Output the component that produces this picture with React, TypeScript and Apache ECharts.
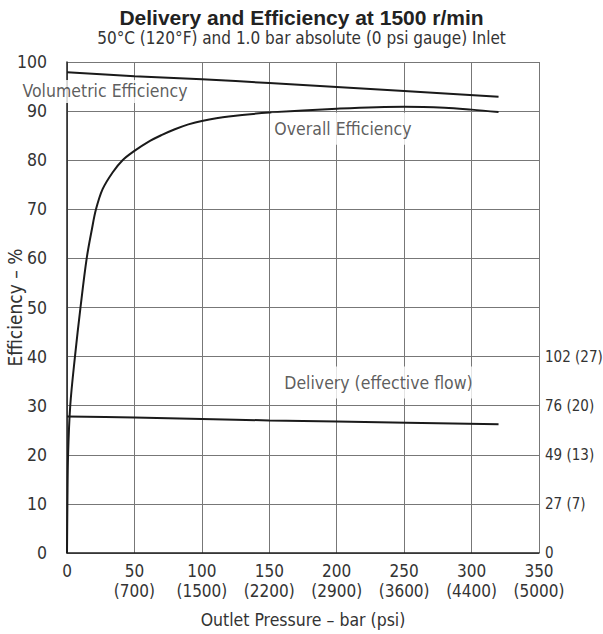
import React, { useEffect, useRef } from "react";
import * as echarts from "echarts";

const titleText = "Delivery and Efficiency at 1500 r/min";
const subtitleText = "50°C (120°F) and 1.0 bar absolute (0 psi gauge) Inlet";
const xAxisName = "Outlet Pressure – bar (psi)";
const yAxisName = "Efficiency – %";

const xTickBar = [0, 50, 100, 150, 200, 250, 300, 350];
const xTickPsi = ["", "(700)", "(1500)", "(2200)", "(2900)", "(3600)", "(4400)", "(5000)"];

const rightTickValues = [0, 10, 20, 30, 40];
const rightTickLabels = ["0", "27 (7)", "49 (13)", "76 (20)", "102 (27)"];

const volPressure = [0, 50, 100, 150, 200, 250, 320];
const volEfficiency = [97.9, 97.1, 96.5, 95.7, 94.9, 94.1, 92.9];

const overallPressure = [0, 0.3, 0.8, 2.4, 5.9, 10, 14.6, 18.5, 21.5, 26.4, 33.8, 41.2, 50, 60, 70, 80, 90, 100, 120, 150, 200, 250, 280, 300, 320];
const overallEfficiency = [0, 10, 20, 30, 40, 50, 60, 66.0, 70, 74.1, 77.5, 80, 81.9, 83.7, 85.1, 86.3, 87.3, 88.0, 88.9, 89.7, 90.5, 90.9, 90.7, 90.3, 89.8];

const deliveryPressure = [0, 50, 100, 150, 200, 320];
const deliveryLevel = [27.8, 27.6, 27.3, 27.0, 26.8, 26.2];

const annotationTexts = ["Volumetric Efficiency", "Overall Efficiency", "Delivery (effective flow)"];
const annotationX = [28.2, 204.6, 231];
const annotationY = [94.0, 86.4, 34.7];

const narrow = "'DejaVu Sans Condensed', 'DejaVu Sans', sans-serif";

export default function App() {
  const ref = useRef<HTMLDivElement>(null);
  useEffect(() => {
    document.body.style.margin = "0";
    if (!ref.current) return;
    const chart = echarts.init(ref.current, undefined, { renderer: "svg" });
    const lineStyle = { color: "#1a1a1a", width: 2 };
    const labelPaddings = [
      [3, 3, 2, 3],
      [5, 3, 9, 3],
      [7, 3, 7, 3],
    ];
    const option = {
      animation: false,
      backgroundColor: "#ffffff",
      title: {
        left: "center",
        top: 2,
        text: titleText,
        subtext: subtitleText,
        itemGap: 1,
        textStyle: { fontSize: 21, fontWeight: "bold", color: "#222", fontFamily: "'Liberation Sans', Arial, sans-serif" },
        subtextStyle: { fontSize: 17, color: "#333", fontFamily: narrow },
      },
      grid: { left: 67, right: 64, top: 62, bottom: 81, outerBoundsMode: "none", containLabel: false },
      xAxis: {
        type: "value",
        min: 0,
        max: 350,
        interval: 50,
        name: xAxisName,
        nameLocation: "middle",
        nameGap: 58,
        nameMoveOverlap: false,
        nameTextStyle: { fontSize: 17.5, color: "#333", fontFamily: narrow },
        axisLine: { show: true, lineStyle: { color: "#222", width: 1.5 } },
        axisTick: { show: false },
        axisLabel: {
          fontSize: 17,
          color: "#333",
          fontFamily: narrow,
          lineHeight: 20,
          margin: 8,
          hideOverlap: false,
          formatter: (v: number) => {
            const i = xTickBar.indexOf(v);
            if (i < 0) return "";
            return xTickPsi[i] ? `${v}\n${xTickPsi[i]}` : `${v}`;
          },
        },
        splitLine: { show: true, lineStyle: { color: "#777", width: 1 } },
      },
      yAxis: [
        {
          type: "value",
          min: 0,
          max: 100,
          interval: 10,
          name: yAxisName,
          nameLocation: "middle",
          nameGap: 43,
          nameMoveOverlap: false,
          nameTextStyle: { fontSize: 19, color: "#333", fontFamily: narrow },
          axisLine: { show: true, lineStyle: { color: "#222", width: 1.5 } },
          axisTick: { show: false },
          axisLabel: { fontSize: 17.5, color: "#333", fontFamily: narrow, margin: 20, hideOverlap: false },
          splitLine: { show: true, lineStyle: { color: "#777", width: 1 } },
        },
        {
          type: "value",
          position: "right",
          min: 0,
          max: 100,
          interval: 10,
          axisLine: { show: false },
          axisTick: { show: false },
          splitLine: { show: false },
          axisLabel: {
            fontSize: 15,
            color: "#333",
            fontFamily: narrow,
            margin: 6,
            hideOverlap: false,
            formatter: (v: number) => {
              const i = rightTickValues.indexOf(v);
              return i < 0 ? "" : rightTickLabels[i];
            },
          },
        },
      ],
      series: [
        {
          name: "Volumetric Efficiency",
          type: "line",
          symbol: "none",
          smooth: 0.3,
          lineStyle,
          data: volPressure.map((x, i) => [x, volEfficiency[i]]),
          z: 3,
        },
        {
          name: "Overall Efficiency",
          type: "line",
          symbol: "none",
          smooth: 0.35,
          lineStyle,
          data: overallPressure.map((x, i) => [x, overallEfficiency[i]]),
          z: 3,
        },
        {
          name: "Delivery",
          type: "line",
          symbol: "none",
          smooth: 0.3,
          lineStyle,
          data: deliveryPressure.map((x, i) => [x, deliveryLevel[i]]),
          z: 3,
        },
        {
          name: "labels",
          type: "scatter",
          symbolSize: 0,
          z: 4,
          silent: true,
          data: annotationTexts.map((t, i) => ({
            value: [annotationX[i], annotationY[i]],
            name: t,
            label: { padding: labelPaddings[i] },
          })),
          label: {
            show: true,
            position: "inside",
            formatter: (p: any) => p.name,
            fontSize: 17.5,
            color: "#333",
            fontFamily: narrow,
            backgroundColor: "#ffffff",
          },
        },
      ],
    };
    chart.setOption(option as any);
    return () => chart.dispose();
  }, []);
  return <div ref={ref} style={{ width: 603, height: 634 }} />;
}
